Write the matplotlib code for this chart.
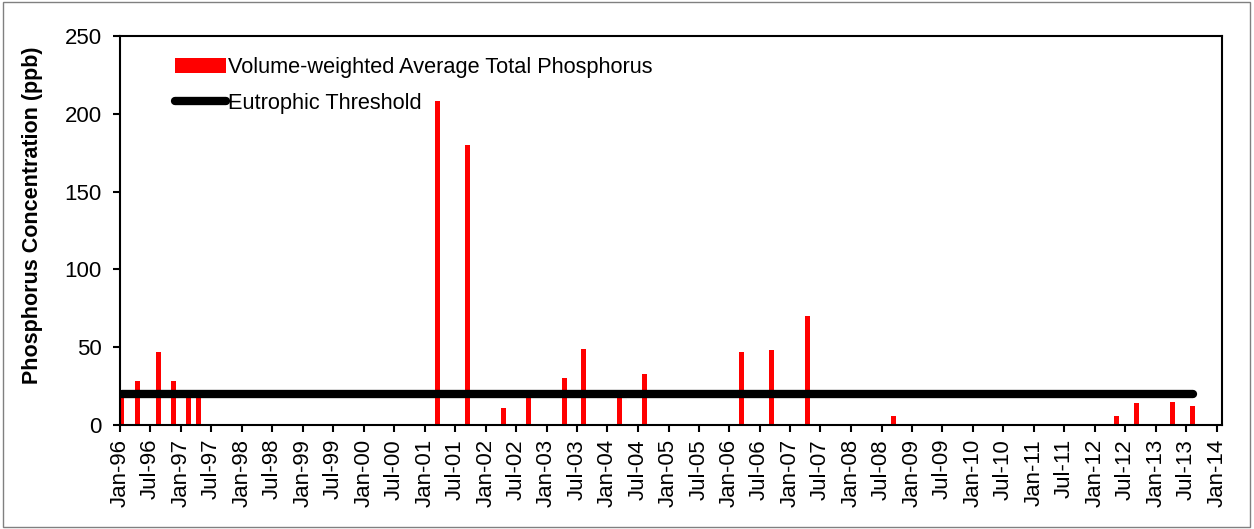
import datetime as dt

import matplotlib
matplotlib.use('Agg')
import matplotlib.pyplot as plt
import matplotlib.dates as mdates
from matplotlib.patches import Rectangle, Patch
from matplotlib.lines import Line2D

# sample dates and volume-weighted average total phosphorus (ppb)
dates = ['1996-01-12', '1996-04-15', '1996-08-20', '1996-11-16', '1997-02-17',
         '1997-04-15', '2001-03-17', '2001-09-13', '2002-04-15', '2002-09-16',
         '2003-04-16', '2003-08-11', '2004-03-14', '2004-08-13', '2006-03-17',
         '2006-09-09', '2007-04-15', '2008-09-09', '2012-05-12', '2012-09-09',
         '2013-04-13', '2013-08-11']
phosphorus = [21, 28, 47, 28, 22, 22, 208, 180, 11, 18,
              30, 49, 18, 33, 47, 48, 70, 6, 6, 14, 15, 12]
threshold = 20

bar_label = 'Volume-weighted Average Total Phosphorus'
line_label = 'Eutrophic Threshold'
y_label = 'Phosphorus Concentration (ppb)'

plt.rcParams['font.family'] = ['Liberation Sans', 'DejaVu Sans']

x = [dt.datetime.strptime(d, '%Y-%m-%d') for d in dates]

fig = plt.figure(figsize=(12.54, 5.29), dpi=100)
ax = fig.add_axes([0.0957, 0.1966, 0.8788, 0.7354])

ax.bar(x, phosphorus, width=30, color='#ff0000', zorder=2)
ax.plot(x, [threshold] * len(x), color='black', linewidth=6,
        solid_capstyle='round', zorder=3)

ax.set_ylim(0, 250)
ax.set_yticks(range(0, 251, 50))
ax.set_xlim(dt.datetime(1996, 1, 1), dt.datetime(2014, 2, 1))

ax.xaxis.set_major_locator(mdates.MonthLocator(bymonth=[1, 7]))
ax.xaxis.set_major_formatter(mdates.DateFormatter('%b-%y'))
for lab in ax.get_xticklabels():
    lab.set_rotation(90)

ax.tick_params(axis='both', direction='out', length=5, width=1.5,
               labelsize=16, colors='black')
ax.tick_params(axis='x', pad=5)
ax.tick_params(axis='y', pad=8)
for s in ax.spines.values():
    s.set_linewidth(1.5)
    s.set_color('black')

ax.set_ylabel(y_label, fontsize=15.5, fontweight='bold')
ax.yaxis.set_label_coords(-0.07, 0.54)

handles = [Patch(facecolor='#ff0000', edgecolor='none'),
           Line2D([0], [0], color='black', linewidth=6, solid_capstyle='round')]
ax.legend(handles, [bar_label, line_label], loc='upper left',
          bbox_to_anchor=(0.042, 0.968), frameon=False, fontsize=15.7,
          handlelength=2.35, handletextpad=0.1, labelspacing=0.68,
          borderaxespad=0)

fig.patches.append(Rectangle((0.002, 0.004), 0.995, 0.992, transform=fig.transFigure,
                             fill=False, edgecolor='#808080', linewidth=1))

fig.savefig('out.png', dpi=100)
